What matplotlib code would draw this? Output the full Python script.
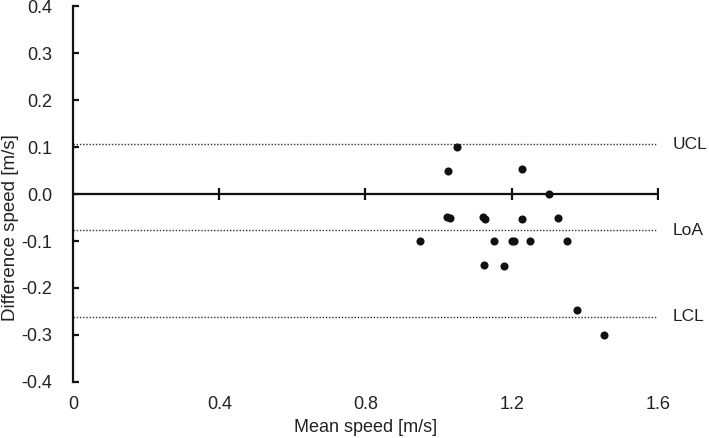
import matplotlib
matplotlib.use("Agg")
import matplotlib.pyplot as plt

plt.rcParams['font.family'] = ['Liberation Sans', 'DejaVu Sans']

# Bland-Altman style data
mean_speed = [1.051, 1.026, 1.228, 1.301, 1.024, 1.030, 1.122, 1.127, 1.228, 1.327,
              0.950, 1.151, 1.201, 1.205, 1.251, 1.352, 1.125, 1.178, 1.378, 1.452]
diff_speed = [0.100, 0.048, 0.053, 0.000, -0.049, -0.052, -0.048, -0.053, -0.053, -0.050,
              -0.100, -0.100, -0.100, -0.101, -0.100, -0.100, -0.151, -0.153, -0.247, -0.300]

limit_names = ['UCL', 'LoA', 'LCL']
limit_values = [0.106, -0.077, -0.261]

xticks = [0, 0.4, 0.8, 1.2, 1.6]
xtick_labels = ['0', '0.4', '0.8', '1.2', '1.6']
yticks = [-0.4, -0.3, -0.2, -0.1, 0.0, 0.1, 0.2, 0.3, 0.4]

fs = 13

fig = plt.figure(figsize=(7.09, 4.38), dpi=100)
ax = fig.add_axes([0.103, 0.128, 0.825, 0.858])

# limit lines
for name, v in zip(limit_names, limit_values):
    ax.plot([0, 1.6], [v, v], color='#333333', lw=1.0, ls=(0, (1, 1.3)))
    ax.text(1.64, v, name, ha='left', va='center', fontsize=12.5, color='#222222', clip_on=False)

# zero line with ticks
ax.plot([0, 1.6], [0, 0], color='#111111', lw=1.6, zorder=2)
ax.plot(xticks[1:], [0] * (len(xticks) - 1), ls='none', marker='|', ms=8,
        mew=1.6, color='#111111', zorder=2)

ax.scatter(mean_speed, diff_speed, s=34, color='#111111', zorder=3, linewidths=0)

ax.set_xlim(0, 1.6)
ax.set_ylim(-0.4, 0.4)
ax.set_xticks(xticks)
ax.set_xticklabels(xtick_labels)
ax.set_yticks(yticks)
ax.set_yticklabels([f'{t:.1f}' for t in yticks])

for s in ['top', 'right', 'bottom']:
    ax.spines[s].set_visible(False)
ax.spines['left'].set_linewidth(1.6)
ax.spines['left'].set_color('#111111')

ax.tick_params(axis='y', direction='in', length=4.5, width=1.6, pad=15, labelsize=fs,
               colors='#111111', labelcolor='#222222')
ax.tick_params(axis='x', length=0, pad=10, labelsize=fs, labelcolor='#222222')

ax.set_xlabel('Mean speed [m/s]', fontsize=fs, color='#222222')
ax.xaxis.set_label_coords(0.5, -0.098)
ax.set_ylabel('Difference speed [m/s]', fontsize=13.5, color='#222222')
ax.yaxis.set_label_coords(-0.092, 0.41)

fig.savefig('out.png', dpi=100)
